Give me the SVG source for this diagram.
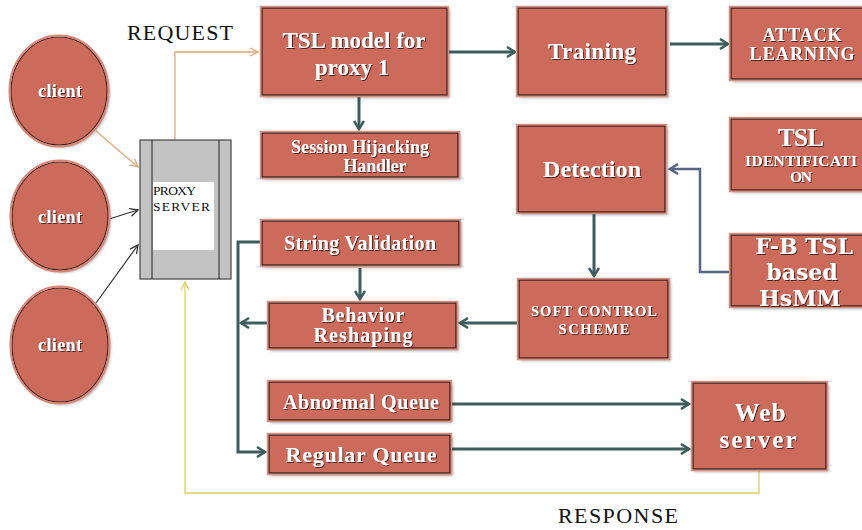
<svg xmlns="http://www.w3.org/2000/svg" width="862" height="530" viewBox="0 0 862 530">
<defs>
<filter id="bs" x="-10%" y="-10%" width="130%" height="130%"><feDropShadow dx="2" dy="2" stdDeviation="1.5" flood-color="#000" flood-opacity="0.35"/></filter>
<filter id="ts" x="-10%" y="-20%" width="130%" height="150%"><feDropShadow dx="1" dy="1" stdDeviation="0.6" flood-color="#3a1a14" flood-opacity="0.9"/></filter>
<marker id="ad" viewBox="0 0 12 12" refX="10" refY="6" markerWidth="12" markerHeight="12" markerUnits="userSpaceOnUse" orient="auto"><path d="M2,1 L10,6 L2,11" fill="none" stroke="#3d5c5c" stroke-width="2.5"/></marker>
<marker id="ab" viewBox="0 0 12 12" refX="10" refY="6" markerWidth="12" markerHeight="12" markerUnits="userSpaceOnUse" orient="auto"><path d="M2,1 L10,6 L2,11" fill="none" stroke="#5a6688" stroke-width="2.5"/></marker>
<marker id="ao" viewBox="0 0 10 10" refX="9" refY="5" markerWidth="10" markerHeight="10" markerUnits="userSpaceOnUse" orient="auto"><path d="M1,1 L9,5 L1,9" fill="none" stroke="#e0a878" stroke-width="1.3"/></marker>
<marker id="ak" viewBox="0 0 10 10" refX="9" refY="5" markerWidth="10" markerHeight="10" markerUnits="userSpaceOnUse" orient="auto"><path d="M1,1 L9,5 L1,9" fill="none" stroke="#333" stroke-width="1.3"/></marker>
<marker id="ay" viewBox="0 0 10 10" refX="9" refY="5" markerWidth="10" markerHeight="10" markerUnits="userSpaceOnUse" orient="auto"><path d="M1,1 L9,5 L1,9" fill="none" stroke="#e0d060" stroke-width="1.3"/></marker>
</defs>
<style>
.box{fill:#cc6b5b;stroke:#4a2820;stroke-width:1.5;filter:url(#bs)}
.rim{fill:none;stroke:#de8f80;stroke-width:1.5}
.cl{fill:#cc6b5b;stroke:#3a2420;stroke-width:1.2;filter:url(#bs)}
.clr{fill:none;stroke:#d98474;stroke-width:2}
.t{font-family:"Liberation Serif","DejaVu Serif",serif;font-weight:bold;fill:#fff;text-anchor:middle;filter:url(#ts)}
.dv{font-family:"DejaVu Serif","Liberation Serif",serif}
.p{font-family:"Liberation Serif","DejaVu Serif",serif;fill:#111}
.cd{fill:none;stroke:#3d5c5c;stroke-width:3}
.cb{fill:none;stroke:#5a6688;stroke-width:2.5}
</style>

<g id="connectors">
<polyline points="175,140 175,52 258,52" fill="none" stroke="#e0a878" stroke-width="1.3" marker-end="url(#ao)"/>
<line x1="96" y1="131" x2="138" y2="167" stroke="#e0a878" stroke-width="1.3" marker-end="url(#ao)"/>
<line x1="109" y1="219" x2="138" y2="210" stroke="#333" stroke-width="1.2" marker-end="url(#ak)"/>
<line x1="96" y1="303" x2="138" y2="245" stroke="#333" stroke-width="1.2" marker-end="url(#ak)"/>
<line x1="448" y1="52" x2="515" y2="52" class="cd" marker-end="url(#ad)"/>
<line x1="670" y1="44" x2="728" y2="44" class="cd" stroke-width="2" marker-end="url(#ad)"/>
<line x1="359" y1="96" x2="359" y2="129" class="cd" marker-end="url(#ad)"/>
<polyline points="730,272 700,272 700,169 670,169" class="cb" marker-end="url(#ab)"/>
<line x1="594" y1="213" x2="594" y2="276" class="cd" marker-end="url(#ad)"/>
<line x1="518" y1="323" x2="460" y2="323" class="cd" marker-end="url(#ad)"/>
<line x1="360" y1="268" x2="360" y2="299" class="cd" marker-end="url(#ad)"/>
<line x1="268" y1="323" x2="241" y2="323" class="cd" marker-end="url(#ad)"/>
<polyline points="261,242 238,242 238,452 265,452" class="cd" marker-end="url(#ad)"/>
<line x1="450" y1="404" x2="689" y2="404" class="cd" marker-end="url(#ad)"/>
<line x1="450" y1="449" x2="689" y2="449" class="cd" marker-end="url(#ad)"/>
<polyline points="759,470 759,493 185,493 185,282" fill="none" stroke="#e0d060" stroke-width="1.3" marker-end="url(#ay)"/>
</g>

<text x="127" y="40" class="p" font-size="22" textLength="106">REQUEST</text>
<text x="558" y="523" class="p" font-size="22" textLength="120">RESPONSE</text>

<g id="client1"><ellipse cx="59" cy="91" rx="48" ry="54" class="cl"/><ellipse cx="59" cy="91" rx="49.5" ry="55.5" class="clr"/><text x="60" y="97" class="t" font-size="18" textLength="44">client</text></g>
<g id="client2"><ellipse cx="60" cy="216" rx="48" ry="54" class="cl"/><ellipse cx="60" cy="216" rx="49.5" ry="55.5" class="clr"/><text x="60" y="223" class="t" font-size="18" textLength="44">client</text></g>
<g id="client3"><ellipse cx="60" cy="345" rx="48" ry="57" class="cl"/><ellipse cx="60" cy="345" rx="49.5" ry="58.5" class="clr"/><text x="60" y="351" class="t" font-size="18" textLength="44">client</text></g>

<g id="proxy">
<rect x="140" y="140" width="91" height="139" fill="#c3c3c3" stroke="#444" stroke-width="1.2"/>
<line x1="152" y1="140" x2="152" y2="279" stroke="#222" stroke-width="1"/>
<line x1="219" y1="140" x2="219" y2="279" stroke="#222" stroke-width="1"/>
<rect x="153" y="182" width="61" height="68" fill="#fff"/>
<text x="153" y="195" class="p" font-size="13.5" textLength="43">PROXY</text>
<text x="153" y="211" class="p" font-size="13.5" textLength="57">SERVER</text>
</g>

<g id="tsl-model"><rect x="262" y="8" width="185" height="87" class="box"/><rect x="260.5" y="6.5" width="188" height="90" class="rim"/><text x="354" y="48" class="t" font-size="23" textLength="143">TSL model for</text><text x="352" y="75" class="t" font-size="23">proxy 1</text></g>

<g id="training"><rect x="518" y="8" width="148" height="87" class="box"/><rect x="516.5" y="6.5" width="151" height="90" class="rim"/><text x="592" y="59" class="t" font-size="23" textLength="88">Training</text></g>

<g id="attack"><rect x="731" y="8" width="135" height="71" class="box"/><rect x="729.5" y="6.5" width="138" height="74" class="rim"/><text x="802" y="41" class="t" font-size="18" textLength="79">ATTACK</text><text x="802" y="60" class="t" font-size="18" textLength="105">LEARNING</text></g>

<g id="session"><rect x="262" y="133" width="196" height="44" class="box"/><rect x="260.5" y="131.5" width="199" height="47" class="rim"/><text x="360" y="153" class="t" font-size="18" textLength="138">Session Hijacking</text><text x="375" y="172" class="t" font-size="18" textLength="63">Handler</text></g>

<g id="tsl-id"><rect x="731" y="119" width="135" height="71" class="box"/><rect x="729.5" y="117.5" width="138" height="74" class="rim"/><text x="801" y="146" class="t" font-size="25" textLength="46">TSL</text><text x="801" y="166" class="t" font-size="15.5" textLength="112">IDENTIFICATI</text><text x="801" y="182" class="t" font-size="15.5" textLength="22">ON</text></g>

<g id="detection"><rect x="518" y="126" width="147" height="86" class="box"/><rect x="516.5" y="124.5" width="150" height="89" class="rim"/><text x="592" y="177" class="t" font-size="24" textLength="98">Detection</text></g>

<g id="fbtsl"><rect x="731" y="235" width="135" height="71" class="box"/><rect x="729.5" y="233.5" width="138" height="74" class="rim"/><text x="804" y="254" class="t dv" font-size="22">F-B TSL</text><text x="802" y="280" class="t dv" font-size="22">based</text><text x="800" y="306" class="t dv" font-size="22">HsMM</text></g>

<g id="soft"><rect x="519" y="280" width="149" height="78" class="box"/><rect x="517.5" y="278.5" width="152" height="81" class="rim"/><text x="594" y="316" class="t" font-size="14.5" textLength="126">SOFT CONTROL</text><text x="594" y="334" class="t" font-size="14.5" textLength="71">SCHEME</text></g>

<g id="string"><rect x="262" y="221" width="197" height="44" class="box"/><rect x="260.5" y="219.5" width="200" height="47" class="rim"/><text x="360" y="250" class="t" font-size="20" textLength="152">String Validation</text></g>

<g id="behavior"><rect x="269" y="303" width="187" height="45" class="box"/><rect x="267.5" y="301.5" width="190" height="48" class="rim"/><text x="363" y="322" class="t" font-size="20" textLength="83">Behavior</text><text x="363" y="342" class="t" font-size="20" textLength="99">Reshaping</text></g>

<g id="abnormal"><rect x="269" y="382" width="181" height="38" class="box"/><rect x="267.5" y="380.5" width="184" height="41" class="rim"/><text x="361" y="409" class="t" font-size="20" textLength="156">Abnormal Queue</text></g>

<g id="regular"><rect x="269" y="435" width="181" height="38" class="box"/><rect x="267.5" y="433.5" width="184" height="41" class="rim"/><text x="361" y="462" class="t" font-size="22" textLength="151">Regular Queue</text></g>

<g id="webserver"><rect x="693" y="383" width="133" height="86" class="box"/><rect x="691.5" y="381.5" width="136" height="89" class="rim"/><text x="760" y="421" class="t" font-size="25" textLength="51">Web</text><text x="758" y="448" class="t" font-size="25" textLength="77">server</text></g>
</svg>
